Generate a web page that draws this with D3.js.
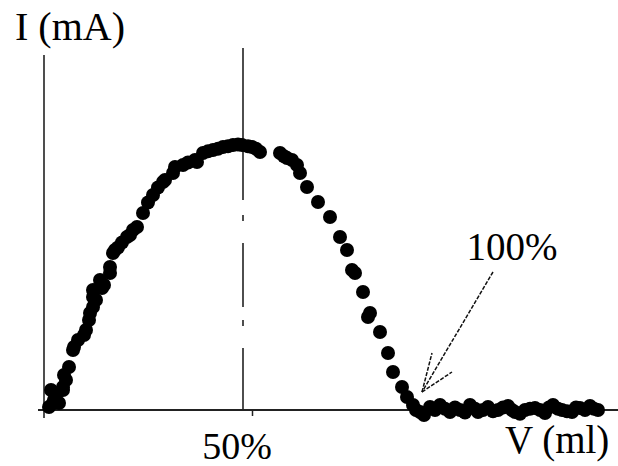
<!DOCTYPE html>
<html>
<head>
<meta charset="utf-8">
<script src="https://cdn.jsdelivr.net/npm/d3@7"></script>
<style>
  html, body { margin: 0; padding: 0; background: #fff; }
  svg { display: block; }
  text { font-family: "Liberation Serif", "Times New Roman", serif; fill: #000; }
</style>
</head>
<body>
<div id="chart"></div>
<script>
// Volume (ml, arbitrary read-off units) and current (mA)
const volume = [
  0.25, 0.45, 0.35, 0.5, 0.6, 0.75, 0.95, 0.95, 1.0, 1.1, 1.25, 1.45, 1.5, 1.7, 2.0, 2.1, 2.25,
  2.3, 2.45, 2.45, 2.45, 2.6, 2.8, 2.9, 3.0, 3.3, 3.3, 3.45, 3.55, 3.7, 3.9, 4.15, 4.3, 4.45,
  4.65, 4.95, 5.2, 5.45, 5.7, 5.95, 6.05, 6.45, 6.55, 6.95, 7.2, 7.55, 7.65, 7.95, 8.2, 8.45,
  8.7, 8.95, 9.2, 9.45, 9.7, 9.9, 10.2, 10.4, 10.6, 10.8,
  11.8, 12.0, 12.15, 12.4, 12.65, 12.8, 13.15, 13.7, 14.3, 14.8, 15.15, 15.4, 15.55, 15.95,
  16.3, 16.2, 16.8, 17.2, 17.45, 17.9, 18.15, 18.45, 18.6, 18.8, 19.0, 19.3,
  19.55, 19.8, 20.05, 20.3, 20.55, 20.8, 21.05, 21.3, 21.55, 21.7, 21.95, 22.2, 22.45, 22.7,
  22.95, 23.2, 23.4, 23.55, 23.8, 24.05, 24.3, 24.55, 24.8, 25.05, 25.25, 25.45, 25.7, 25.9,
  26.15, 26.4, 26.6, 26.8, 27.05, 27.3, 27.5, 27.7
];
const current = [
  0.12, 0.28, 0.8, 0.4, 0.6, 0.28, 0.8, 0.92, 1.4, 1.2, 1.72, 2.4, 2.52, 2.8, 3.0, 3.2, 3.6,
  3.88, 4.12, 4.52, 4.8, 4.4, 5.2, 4.88, 5.0, 5.48, 5.72, 6.28, 6.4, 6.5, 6.7, 6.92, 7.0, 7.2,
  7.32, 7.88, 8.3, 8.6, 8.9, 9.12, 9.2, 9.48, 9.72, 9.8, 9.9, 10.0, 9.92, 10.28, 10.35, 10.4,
  10.45, 10.52, 10.55, 10.6, 10.62, 10.6, 10.55, 10.52, 10.45, 10.32,
  10.28, 10.15, 10.08, 10.0, 9.8, 9.48, 8.92, 8.32, 7.72, 6.92, 6.4, 5.6, 5.48, 4.72,
  3.88, 3.72, 3.12, 2.28, 1.52, 0.92, 0.52, 0.2, 0.0, -0.08, -0.2, 0.12,
  0.0, 0.2, 0.05, -0.08, 0.1, 0.0, -0.1, 0.2, 0.05, -0.08, 0.0, 0.12, -0.05, 0.0,
  0.1, 0.16, 0.0, -0.08, -0.15, 0.0, 0.05, 0.08, 0.0, -0.12, 0.1, 0.2, 0.05, 0.0,
  -0.05, -0.08, 0.1, 0.08, 0.0, 0.16, 0.05, 0.0
];
const halfPoint = 9.95;      // 50% line (dash-dot)
const halfTick = 10.4;       // small tick on the V axis
const halfLabel = "50%";
const endPoint = 18.9;       // 100% equivalence point
const endLabel = "100%";
const xLabel = "V (ml)";
const yLabel = "I (mA)";

const W = 618, H = 466;
const svg = d3.select("#chart").append("svg").attr("width", W).attr("height", H);

const x = d3.scaleLinear().domain([0, 28.7]).range([44, 618]);
const y = d3.scaleLinear().domain([0, 10.6]).range([410, 145]);

// Axes lines
svg.append("line").attr("x1", x(-0.3)).attr("x2", W).attr("y1", y(0)).attr("y2", y(0))
  .attr("stroke", "#222").attr("stroke-width", 2);
svg.append("line").attr("x1", x(0)).attr("x2", x(0)).attr("y1", 55).attr("y2", y(-0.32))
  .attr("stroke", "#222").attr("stroke-width", 1.6);

// small tick under axis at 50%
const xAxis = d3.axisBottom(x).tickValues([halfTick]).tickSize(5).tickFormat("");
const gx = svg.append("g").attr("transform", `translate(0,${y(0) + 1})`).call(xAxis);
gx.select(".domain").remove();
gx.selectAll(".tick line").attr("stroke", "#222").attr("stroke-width", 1.5);

// dash-dot 50% line
svg.append("line").attr("x1", x(halfPoint)).attr("x2", x(halfPoint))
  .attr("y1", 48).attr("y2", y(0))
  .attr("stroke", "#222").attr("stroke-width", 1.6)
  .attr("stroke-dasharray", "152,15,6,22,64,13,6,22,64");

// data dots
const pts = volume.map((v, i) => [v, current[i]]);
svg.append("g").selectAll("circle").data(pts).join("circle")
  .attr("cx", d => x(d[0])).attr("cy", d => y(d[1]))
  .attr("r", 7).attr("fill", "#000");

// labels
svg.append("text").attr("x", 15).attr("y", 40).attr("font-size", 40).text(yLabel);
svg.append("text").attr("x", 505).attr("y", 453).attr("font-size", 39).text(xLabel);
svg.append("text").attr("x", x(9.65)).attr("y", 459).attr("font-size", 38)
  .attr("text-anchor", "middle").text(halfLabel);
svg.append("text").attr("x", 512).attr("y", 260).attr("font-size", 39)
  .attr("text-anchor", "middle").text(endLabel);

// arrow to 100%
const tipX = x(endPoint), tipY = y(0.72);
const arrow = svg.append("g").attr("stroke", "#111").attr("stroke-width", 1.5)
  .attr("stroke-dasharray", "4,1.5").attr("fill", "none");
arrow.append("line").attr("x1", 493).attr("y1", 272).attr("x2", tipX).attr("y2", tipY);
arrow.append("line").attr("x1", tipX).attr("y1", tipY).attr("x2", tipX + 10).attr("y2", tipY - 39);
arrow.append("line").attr("x1", tipX).attr("y1", tipY).attr("x2", tipX + 30).attr("y2", tipY - 20);
</script>
</body>
</html>
